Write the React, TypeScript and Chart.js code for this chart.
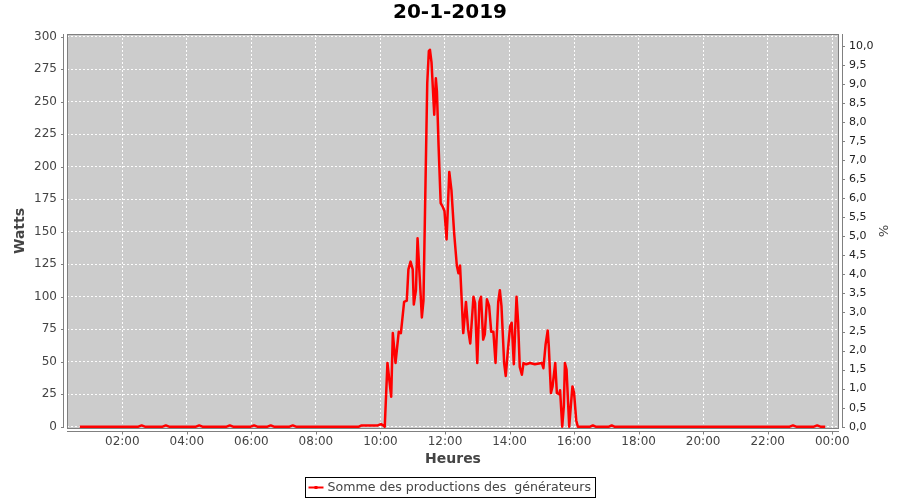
import React, { useEffect, useRef } from "react";
import { Chart, registerables } from "chart.js";

Chart.register(...registerables);

const TITLE = "20-1-2019";
const X_TITLE = "Heures";
const Y_TITLE = "Watts";
const Y2_TITLE = "%";
const SERIES_LABEL = "Somme des productions des  générateurs";

const times = [
  "00:41", "01:30", "02:30", "02:36", "02:42", "03:15", "03:21", "03:27",
  "04:17", "04:23", "04:29", "05:14", "05:20", "05:26", "05:59", "06:05",
  "06:11", "06:30", "06:36", "06:42", "07:11", "07:17", "07:23", "08:00",
  "08:45", "09:20", "09:25", "09:40", "09:55", "10:01", "10:05", "10:08",
  "10:13", "10:20", "10:23", "10:28", "10:34", "10:38", "10:44", "10:49",
  "10:52", "10:56", "11:00", "11:02", "11:06", "11:09", "11:13", "11:17",
  "11:20", "11:23", "11:27", "11:30", "11:32", "11:35", "11:40", "11:43", "11:45",
  "11:48", "11:52", "11:56", "11:59", "12:03", "12:08", "12:12", "12:17",
  "12:22", "12:25", "12:28", "12:34", "12:39", "12:43", "12:47", "12:53",
  "12:56", "13:00", "13:04", "13:07", "13:11", "13:14", "13:18", "13:22",
  "13:26", "13:30", "13:34", "13:39", "13:42", "13:45", "13:50", "13:53",
  "13:57", "14:01", "14:04", "14:08", "14:13", "14:16", "14:19", "14:23",
  "14:26", "14:31", "14:38", "14:47", "15:00", "15:03", "15:07", "15:11",
  "15:13", "15:17", "15:20", "15:25", "15:28", "15:32", "15:34", "15:38",
  "15:41", "15:43", "15:46", "15:51", "15:54", "15:57", "16:00", "16:04",
  "16:07", "16:30", "16:35", "16:40", "17:05", "17:10", "17:15", "18:00",
  "19:00", "20:00", "21:00", "22:41", "22:47", "22:53", "23:26", "23:32",
  "23:38", "23:47",
];

const watts = [
  0, 0, 0, 1, 0, 0, 1, 0,
  0, 1, 0, 0, 1, 0, 0, 1,
  0, 0, 1, 0, 0, 1, 0, 0,
  0, 0, 1, 1, 1, 2, 1, 0,
  49, 23, 72, 49, 73, 72, 96, 97,
  121, 127, 121, 94, 105, 145, 115, 84,
  97, 169, 264, 289, 290, 280, 240, 268, 258,
  217, 172, 169, 166, 144, 196, 182, 149,
  124, 118, 124, 72, 96, 75, 64, 100,
  95, 49, 96, 100, 67, 71, 98, 93,
  73, 73, 49, 96, 105, 93, 49, 39,
  59, 77, 80, 48, 100, 80, 46, 40,
  49, 48, 49, 48, 49, 45, 63, 74,
  62, 26, 31, 49, 26, 25, 28, 0,
  16, 49, 44, 0, 16, 31, 26, 5,
  0, 0, 1, 0, 0, 1, 0, 0,
  0, 0, 0, 0, 1, 0, 0, 1,
  0, 0,
];

const xTickHours = [2, 4, 6, 8, 10, 12, 14, 16, 18, 20, 22, 24];
const xTickLabels = ["02:00", "04:00", "06:00", "08:00", "10:00", "12:00", "14:00", "16:00", "18:00", "20:00", "22:00", "00:00"];
const wattTicks = [0, 25, 50, 75, 100, 125, 150, 175, 200, 225, 250, 275, 300];
const pctTicks = [0, 0.5, 1, 1.5, 2, 2.5, 3, 3.5, 4, 4.5, 5, 5.5, 6, 6.5, 7, 7.5, 8, 8.5, 9, 9.5, 10];
const pctTickLabels = ["0,0", "0,5", "1,0", "1,5", "2,0", "2,5", "3,0", "3,5", "4,0", "4,5", "5,0", "5,5", "6,0", "6,5", "7,0", "7,5", "8,0", "8,5", "9,0", "9,5", "10,0"];

const FONT = "'DejaVu Sans', sans-serif";
const AXIS_GRAY = "#808080";
const TEXT_GRAY = "#444444";
const RED = "#ff0000";
const GRID = "rgba(255,255,255,0.95)";

const toHours = (t: string) => {
  const [h, m] = t.split(":").map(Number);
  return h + m / 60;
};

const framePlugin = {
  id: "frame",
  beforeDraw(chart: any) {
    const { ctx, chartArea: a } = chart;
    ctx.save();
    ctx.fillStyle = "#cccccc";
    ctx.fillRect(a.left, a.top, a.right - a.left, a.bottom - a.top);
    ctx.restore();
  },
  beforeDatasetsDraw(chart: any) {
    const { ctx, chartArea: a } = chart;
    ctx.save();
    ctx.strokeStyle = AXIS_GRAY;
    ctx.lineWidth = 1;
    ctx.strokeRect(a.left + 0.5, a.top + 0.5, a.right - a.left - 1, a.bottom - a.top);
    ctx.restore();
  },
  afterDraw(chart: any) {
    const { ctx, chartArea: a, scales } = chart;
    ctx.save();
    ctx.strokeStyle = AXIS_GRAY;
    ctx.lineWidth = 1;
    ctx.setLineDash([]);
    // left axis
    const lx = Math.round(a.left) - 3.5;
    ctx.beginPath();
    ctx.moveTo(lx, a.top);
    ctx.lineTo(lx, a.bottom);
    for (const v of wattTicks) {
      const y = Math.round(scales.y.getPixelForValue(v)) + 0.5;
      ctx.moveTo(lx - 2.5, y);
      ctx.lineTo(lx, y);
    }
    // right axis
    const rx = Math.round(a.right) + 3.5;
    ctx.moveTo(rx, a.top);
    ctx.lineTo(rx, a.bottom);
    for (const v of pctTicks) {
      const y = Math.round(scales.y1.getPixelForValue(v)) + 0.5;
      ctx.moveTo(rx, y);
      ctx.lineTo(rx + 2.5, y);
    }
    // bottom axis
    const by = Math.round(a.bottom) + 3.5;
    ctx.moveTo(a.left, by);
    ctx.lineTo(a.right, by);
    for (const v of xTickHours) {
      const x = Math.round(scales.x.getPixelForValue(v)) + 0.5;
      ctx.moveTo(x, by);
      ctx.lineTo(x, by + 3);
    }
    ctx.stroke();

    // legend
    ctx.font = `12.6px ${FONT}`;
    const w = ctx.measureText(SERIES_LABEL).width;
    const boxW = Math.round(26 + w);
    const left = Math.round(450 - boxW / 2) + 0.5;
    const top = 477.5;
    const h = 20;
    ctx.strokeStyle = "#000000";
    ctx.lineWidth = 1;
    ctx.strokeRect(left, top, boxW, h);
    ctx.strokeStyle = RED;
    ctx.lineWidth = 2;
    ctx.beginPath();
    ctx.moveTo(left + 3, top + h / 2);
    ctx.lineTo(left + 18, top + h / 2);
    ctx.stroke();
    ctx.fillStyle = RED;
    ctx.fillRect(left + 9, top + h / 2 - 1.5, 3, 3);
    ctx.fillStyle = TEXT_GRAY;
    ctx.textBaseline = "middle";
    ctx.textAlign = "left";
    ctx.fillText(SERIES_LABEL, left + 22, top + h / 2 + 0.5);
    ctx.restore();
  },
};

export default function App() {
  const ref = useRef<HTMLCanvasElement | null>(null);

  useEffect(() => {
    if (!ref.current) return;
    const points = times.map((t, i) => ({ x: toHours(t), y: watts[i] }));
    const chart = new Chart(ref.current, {
      type: "line",
      data: {
        datasets: [
          {
            label: SERIES_LABEL,
            data: points,
            borderColor: RED,
            backgroundColor: RED,
            borderWidth: 2.5,
            pointRadius: 0,
            tension: 0,
            borderJoinStyle: "round",
            yAxisID: "y",
          },
        ],
      },
      options: {
        responsive: false,
        animation: false,
        devicePixelRatio: 1,
        layout: { padding: { left: 0, right: 0, top: 0, bottom: 28 } },
        plugins: {
          legend: { display: false },
          tooltip: { enabled: false },
          title: {
            display: true,
            text: TITLE,
            color: "#000000",
            font: { family: FONT, size: 20, weight: "bold" },
            padding: { top: 1, bottom: 9 },
          },
        },
        scales: {
          x: {
            type: "linear",
            min: 0.2866,
            max: 24.21,
            afterFit: (s: any) => {
              s.height = 44;
            },
            afterBuildTicks: (s: any) => {
              s.ticks = xTickHours.map((v) => ({ value: v }));
            },
            border: { display: false, dash: [2, 2] },
            grid: {
              color: GRID,
              lineWidth: 1,
              drawTicks: true,
              tickLength: 4,
              tickColor: "rgba(0,0,0,0)",
            },
            ticks: {
              autoSkip: false,
              maxRotation: 0,
              padding: 3,
              color: TEXT_GRAY,
              font: { family: FONT, size: 12 },
              callback: (_v: any, i: number) => xTickLabels[i],
            },
            title: {
              display: true,
              text: X_TITLE,
              color: TEXT_GRAY,
              font: { family: FONT, size: 14, weight: "bold" },
              padding: { top: 0, bottom: 4 },
            },
          },
          y: {
            type: "linear",
            position: "left",
            min: -1.0,
            max: 302.08,
            afterFit: (s: any) => {
              s.width = 67;
            },
            afterBuildTicks: (s: any) => {
              s.ticks = wattTicks.map((v) => ({ value: v }));
            },
            border: { display: false, dash: [2, 2] },
            grid: {
              color: GRID,
              lineWidth: 1,
              drawTicks: true,
              tickLength: 8,
              tickColor: "rgba(0,0,0,0)",
            },
            ticks: {
              padding: 2,
              color: TEXT_GRAY,
              font: { family: FONT, size: 12 },
              callback: (v: any) => String(v),
            },
            title: {
              display: true,
              text: Y_TITLE,
              color: TEXT_GRAY,
              font: { family: FONT, size: 14, weight: "bold" },
              padding: { top: 12, bottom: 0 },
            },
          },
          y1: {
            type: "linear",
            position: "right",
            min: -0.034,
            max: 10.315,
            afterFit: (s: any) => {
              s.width = 61;
            },
            afterBuildTicks: (s: any) => {
              s.ticks = pctTicks.map((v) => ({ value: v }));
            },
            border: { display: false },
            grid: {
              drawOnChartArea: false,
              drawTicks: true,
              tickLength: 8,
              tickColor: "rgba(0,0,0,0)",
            },
            ticks: {
              padding: 2,
              color: "#222222",
              font: { family: FONT, size: 11 },
              callback: (_v: any, i: number) => pctTickLabels[i],
            },
            title: {
              display: true,
              text: Y2_TITLE,
              color: TEXT_GRAY,
              font: { family: FONT, size: 13 },
              padding: { top: 10, bottom: 0 },
            },
          },
        },
      },
      plugins: [framePlugin],
    } as any);
    return () => chart.destroy();
  }, []);

  return (
    <div style={{ position: "absolute", left: 0, top: 0, width: 900, height: 500, background: "#ffffff" }}>
      <canvas ref={ref} width={900} height={500} style={{ display: "block" }} />
    </div>
  );
}
